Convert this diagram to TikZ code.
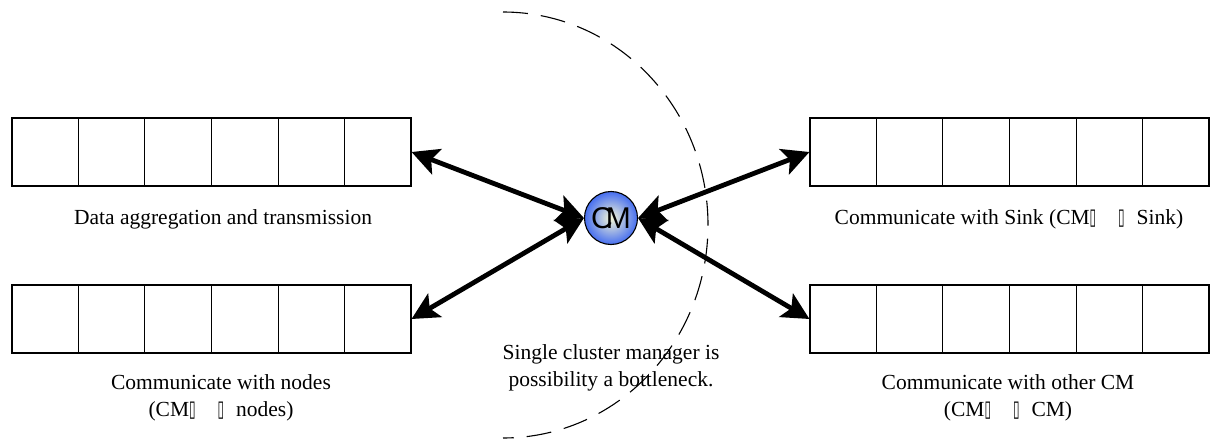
\documentclass[tikz,border=0pt]{standalone}
\usepackage{fontspec}
\usepackage{graphicx}
\setmainfont{Liberation Serif}
\newfontfamily\cmfont{Liberation Sans}
\newfontfamily\symfont{DejaVu Sans}
\usetikzlibrary{arrows.meta,calc}
\newcommand{\tofu}{{\symfont\scalebox{0.55}[1.05]{▯}}}
\definecolor{cmblue}{RGB}{70,110,240}
\definecolor{cmlight}{RGB}{245,248,215}
\tikzset{
  rowbox/.style={draw, line width=1.1pt, minimum width=399pt, minimum height=68pt, inner sep=0pt},
  biarrow/.style={line width=4.8pt, {Stealth[length=27pt,width=27pt,inset=6pt]}-{Stealth[length=27pt,width=27pt,inset=6pt]}},
  lbl/.style={font=\fontsize{21.5}{27}\selectfont, align=center, inner sep=0pt},
  cmnode/.style={circle, draw, line width=1.1pt, minimum size=53pt, inner sep=0pt, inner color=cmlight, outer color=cmblue},
  bneck/.style={dash pattern=on 25pt off 13pt, line width=1.1pt}
}
\begin{document}
\begin{tikzpicture}[x=1pt,y=-1pt]
\useasboundingbox (0,0) rectangle (1210,439);
% dashed boundary
\draw[bneck] (503,12) arc[start angle=-90, end angle=90, x radius=205, y radius=213];
% rows of cells
\node[rowbox] (L1) at (211.5,152) {};
\node[rowbox] (L2) at (211.5,319) {};
\node[rowbox] (R1) at (1009.5,152) {};
\node[rowbox] (R2) at (1009.5,319) {};
\foreach \r in {L1,L2,R1,R2}{
  \foreach \k in {1,...,5}{
    \draw[line width=1.1pt] ($(\r.north west)!{\k/6}!(\r.north east)$) -- ($(\r.south west)!{\k/6}!(\r.south east)$);
  }
}
% cluster manager
\node[cmnode] (cm) at (611,218) {\cmfont\fontsize{30}{30}\selectfont C\kern-7pt M};
% arrows
\draw[biarrow] (L1.east) -- (cm.west);
\draw[biarrow] (L2.east) -- (cm.west);
\draw[biarrow] (cm.east) -- (R1.west);
\draw[biarrow] (cm.east) -- (R2.west);
% labels
\node[lbl] (t1) at (223,219) {Data aggregation and transmission};
\node[lbl] (t2) at (221,398) {Communicate with nodes\\(CM\tofu\hspace{22pt}\tofu\hspace{12pt}nodes)};
\node[lbl] (t3) at (1009,219) {Communicate with Sink (CM\tofu\hspace{22pt}\tofu\hspace{12pt}Sink)};
\node[lbl] (t4) at (1008,398) {Communicate with other CM\\(CM\tofu\hspace{22pt}\tofu\hspace{12pt}CM)};
\node[lbl] (t5) at (611,368) {Single cluster manager is\\possibility a bottleneck.};
\end{tikzpicture}
\end{document}
